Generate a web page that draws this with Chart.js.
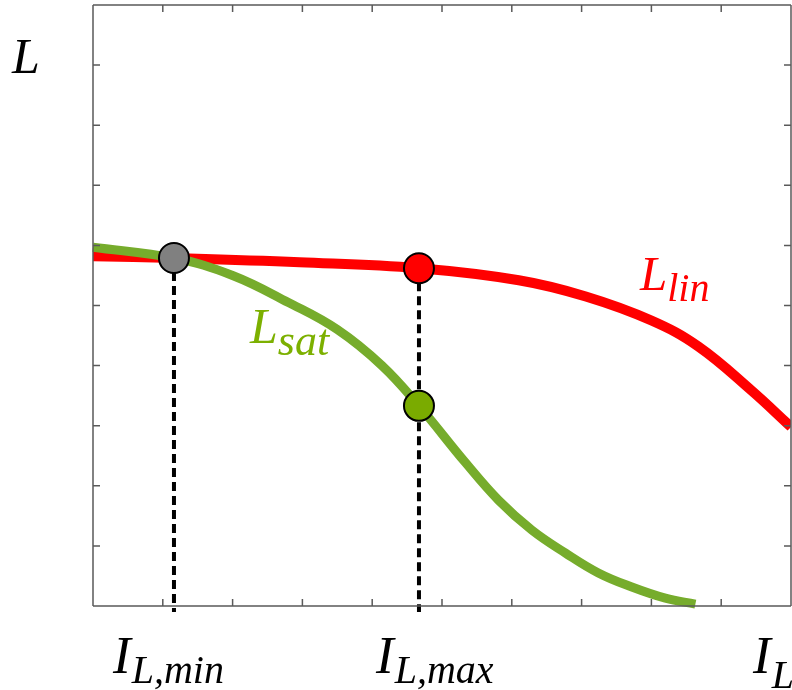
<!DOCTYPE html>
<html>
<head>
<meta charset="utf-8">
<script src="https://cdn.jsdelivr.net/npm/chart.js@4"></script>
<style>
  html, body { margin: 0; padding: 0; background: #fff; }
  #wrap { width: 792px; height: 690px; }
</style>
</head>
<body>
<div id="wrap"><canvas id="chart" width="792" height="690"></canvas></div>
<script>
// tick positions (no labels on the axes, only the marks)
const xTicks = [1, 2, 3, 4, 5, 6, 7, 8, 9];
const yTicks = [1, 2, 3, 4, 5, 6, 7, 8, 9];

// L_lin curve (red)
const linX = [0, 1.16, 2.96, 4.67, 6.10, 7.06, 8.0, 8.67, 9.43, 10.0];
const linY = [5.82, 5.79, 5.72, 5.62, 5.42, 5.15, 4.75, 4.32, 3.59, 2.98];

// L_sat curve (green)
const satX = [0, 1.16, 2.0, 2.8, 3.5, 4.14, 4.67, 5.34, 5.81, 6.29, 6.77, 7.24, 7.71, 8.2, 8.63];
const satY = [5.97, 5.79, 5.50, 5.05, 4.60, 4.00, 3.33, 2.38, 1.76, 1.26, 0.88, 0.55, 0.32, 0.13, 0.03];

// marked points: I_L,min on both curves, I_L,max on L_lin and L_sat
const markX = [1.16, 4.67, 4.67];
const markY = [5.79, 5.62, 3.33];
const markColors = ['#808080', '#ff0000', '#7aab00'];

const toPts = (xs, ys) => xs.map((x, i) => ({x: x, y: ys[i]}));

const dashLine = (x, yTop) => ({
    type: 'line',
    data: [{x: x, y: yTop}, {x: x, y: -0.1}],
    borderColor: '#000',
    borderWidth: 4,
    borderDash: [9, 5],
    pointRadius: 0,
    clip: false,
    order: 3
});

const SERIF = '"Liberation Serif", "DejaVu Serif", serif';

function label(ctx, main, sub, x, base, mainSize, subSize, drop, color, gap) {
    ctx.fillStyle = color;
    ctx.font = 'italic ' + mainSize + 'px ' + SERIF;
    ctx.fillText(main, x, base);
    if (sub) {
        const w = ctx.measureText(main).width;
        ctx.font = 'italic ' + subSize + 'px ' + SERIF;
        ctx.fillText(sub, x + w + (gap || 0), base + drop);
    }
}

// frame, inward ticks and the math labels
const framePlugin = {
    id: 'frame',
    afterDatasetsDraw(chart) {
        const ctx = chart.ctx;
        const a = chart.chartArea;
        const xs = chart.scales.x, ys = chart.scales.y;
        ctx.save();
        ctx.strokeStyle = '#5a5a5a';
        ctx.lineWidth = 1.5;
        ctx.beginPath();
        ctx.moveTo(a.left, a.top);
        ctx.lineTo(a.right, a.top);
        ctx.moveTo(a.left, a.top);
        ctx.lineTo(a.left, a.bottom);
        ctx.moveTo(a.left, a.bottom);
        ctx.lineTo(a.right, a.bottom);
        ctx.moveTo(a.right, a.top);
        ctx.lineTo(a.right, a.bottom);
        const t = 7;
        xTicks.forEach(v => {
            const px = xs.getPixelForValue(v);
            ctx.moveTo(px, a.bottom); ctx.lineTo(px, a.bottom - t);
            ctx.moveTo(px, a.top); ctx.lineTo(px, a.top + t);
        });
        yTicks.forEach(v => {
            const py = ys.getPixelForValue(v);
            ctx.moveTo(a.left, py); ctx.lineTo(a.left + t, py);
            ctx.moveTo(a.right, py); ctx.lineTo(a.right - t, py);
        });
        ctx.stroke();
        ctx.restore();
    },
    afterDraw(chart) {
        const ctx = chart.ctx;
        ctx.save();
        ctx.textBaseline = 'alphabetic';
        label(ctx, 'L', '', 12, 73, 50, 0, 0, '#000');
        label(ctx, 'I', 'L,min', 113, 673, 53, 40, 10, '#000', 1);
        label(ctx, 'I', 'L,max', 376, 673, 53, 40, 10, '#000', 1);
        label(ctx, 'I', 'L', 753, 673, 53, 40, 15, '#000', 1);
        label(ctx, 'L', 'sat', 250, 343, 50, 44, 12, '#7cb000', 0);
        label(ctx, 'L', 'lin', 640, 290, 49, 40, 11, '#ff0000', 0);
        ctx.restore();
    }
};

new Chart(document.getElementById('chart'), {
    type: 'line',
    data: {
        datasets: [
            {
                data: toPts(markX, markY),
                showLine: false,
                pointRadius: 15,
                pointHoverRadius: 15,
                pointBackgroundColor: markColors,
                pointBorderColor: '#000',
                pointBorderWidth: 2,
                clip: false,
                order: 0
            },
            {
                data: toPts(satX, satY),
                borderColor: '#76ac2c',
                borderWidth: 9,
                pointRadius: 0,
                tension: 0.4,
                borderCapStyle: 'butt',
                clip: false,
                order: 1
            },
            {
                data: toPts(linX, linY),
                borderColor: '#ff0000',
                borderWidth: 10,
                pointRadius: 0,
                tension: 0.4,
                borderCapStyle: 'butt',
                order: 2
            },
            dashLine(markX[0], markY[0]),
            dashLine(markX[1], markY[1])
        ]
    },
    options: {
        responsive: false,
        animation: false,
        events: [],
        layout: {autoPadding: false, padding: {left: 93, top: 5, right: 1, bottom: 84}},
        scales: {
            x: {type: 'linear', min: 0, max: 10, display: false},
            y: {type: 'linear', min: 0, max: 10, display: false}
        },
        plugins: {
            legend: {display: false},
            tooltip: {enabled: false}
        }
    },
    plugins: [framePlugin]
});
</script>
</body>
</html>
